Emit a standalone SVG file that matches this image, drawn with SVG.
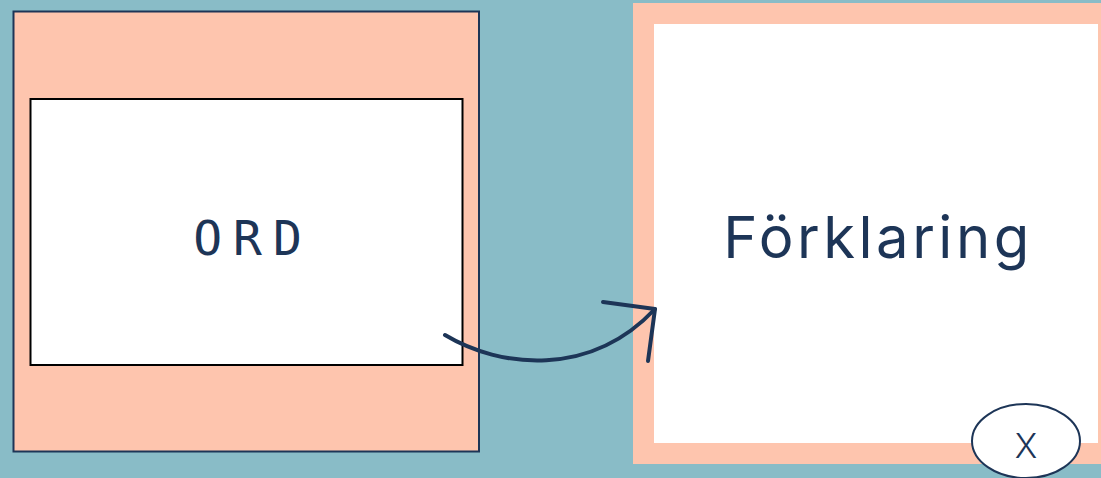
<svg xmlns="http://www.w3.org/2000/svg" width="1101" height="478" viewBox="0 0 1101 478">
  <style>
    .navy { fill: #1d3557; }
    .conn { fill: none; stroke: #1d3557; stroke-width: 4; stroke-linecap: round; stroke-linejoin: round; }
  </style>
  <rect x="0" y="0" width="1101" height="478" fill="#89bcc7"/>
  <g id="word-card">
    <rect x="13.5" y="11.5" width="465.5" height="440" fill="#fec5ae" stroke="#1d3557" stroke-width="2"/>
    <rect x="30.5" y="99" width="432" height="266" fill="#ffffff" stroke="#000000" stroke-width="2"/>
    <text x="253" y="255" text-anchor="middle" class="navy" font-family="DejaVu Sans Mono, monospace" font-size="48" letter-spacing="11">ORD</text>
  </g>
  <g id="explanation-card">
    <rect x="633" y="3" width="480" height="461" fill="#fec5ae"/>
    <rect x="654" y="24" width="444" height="419" fill="#ffffff"/>
    <text x="878" y="258" text-anchor="middle" class="navy" font-family="Inter, sans-serif" font-size="58" letter-spacing="3.5">Förklaring</text>
  </g>
  <g id="close-button">
    <ellipse cx="1026" cy="441" rx="54" ry="37" fill="#ffffff" stroke="#1d3557" stroke-width="2"/>
    <text x="1026" y="458" text-anchor="middle" class="navy" font-family="Inter, sans-serif" font-size="34" font-weight="300">X</text>
  </g>
  <g id="connectors">
    <path class="conn" d="M445,335 C500,368 590,378 655,309"/>
    <path class="conn" d="M603,302 L655,309 L648,361"/>
  </g>
</svg>
